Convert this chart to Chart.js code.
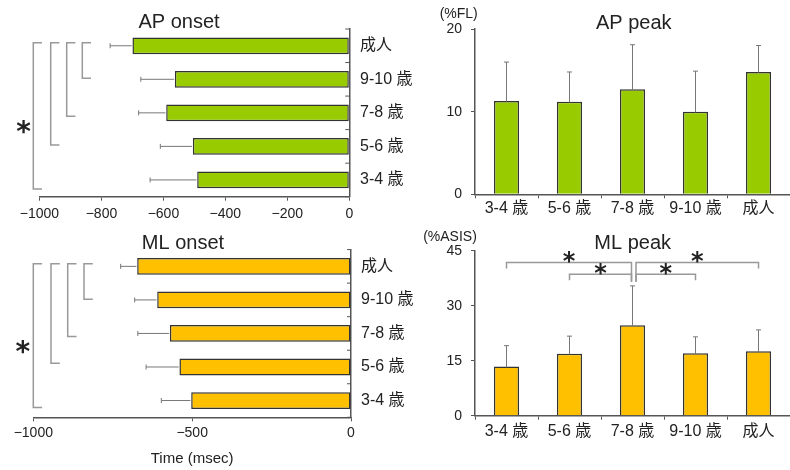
<!DOCTYPE html>
<html><head><meta charset="utf-8">
<script src="https://cdn.jsdelivr.net/npm/chart.js@4/dist/chart.umd.min.js"></script>
<style>
html,body{margin:0;padding:0;background:#fff;}
#wrap{position:relative;width:790px;height:470px;overflow:hidden;background:#fff;}
canvas{position:absolute;}
</style></head><body>
<div id="wrap">
<canvas id="c1" style="left:0;top:0" width="425" height="232"></canvas>
<canvas id="c2" style="left:0;top:230px" width="425" height="240"></canvas>
<canvas id="c3" style="left:400px;top:0" width="390" height="230"></canvas>
<canvas id="c4" style="left:400px;top:230px" width="390" height="240"></canvas>
</div>
<script>
// ---- data ----
const onsetLabels = ['成人','9-10 歳','7-8 歳','5-6 歳','3-4 歳'];
const peakLabels = ['3-4 歳','5-6 歳','7-8 歳','9-10 歳','成人'];
const apOnsetMean = [-700,-563,-591,-505,-491];
const apOnsetSD = [72,110,89,105,152];
const mlOnsetMean = [-673,-610,-570,-540,-503];
const mlOnsetSD = [52,71,101,105,94];
const apPeakMean = [11.3,11.2,12.7,10.0,14.8];
const apPeakSD = [4.7,3.6,5.4,4.9,3.2];
const mlPeakMean = [13.4,16.9,24.7,17.0,17.6];
const mlPeakSD = [5.7,4.8,10.7,4.5,5.8];
const apOnsetTicks = [-1000,-800,-600,-400,-200,0];
const mlOnsetTicks = [-1000,-500,0];
const apPeakTicks = [0,10,20];
const mlPeakTicks = [0,15,30,45];
const onsetSig = [[0,4],[0,3],[0,2],[0,1]];
const mlPeakSig = [[0,2],[2,4],[1,2],[2,3]];

const FONT = "'Liberation Sans','Noto Sans CJK JP',sans-serif";
const STARFONT = "'DejaVu Sans','Liberation Sans',sans-serif";
Chart.defaults.font.family = FONT;
Chart.defaults.color = '#222';
const GREEN = '#99CC00', ORANGE = '#FFC000', EDGE = '#333', AXIS = '#555', BR = '#999';

function fmt(v){ return v < 0 ? '\u2212' + Math.abs(v) : String(v); }

const decoCfg = {
  c1: {title:{t:'AP onset', x:179, y:22.5}, innerTicks:true,
       brackets:{pairs:onsetSig, xs:[33.3,50.7,66.7,82.3], arm:8.7, topDy:-3, endDy:[9,-1.5,3.3,-1]},
       star:{x:23.5, y:126.5, size:28}},
  c2: {title:{t:'ML onset', x:183, y:13.3}, innerTicks:true,
       brackets:{pairs:onsetSig, xs:[33.3,51,67.7,84], arm:8.8, topDy:-2.7, endDy:[7,-3.7,3,-0.7]},
       star:{x:22.7, y:116.7, size:28}},
  c3: {title:{t:'AP peak', x:233.8, y:23.3}, unit:{t:'(%FL)', x:58.7, y:14.3}},
  c4: {title:{t:'ML peak', x:232.7, y:13.3}, unit:{t:'(%ASIS)', x:50, y:7.5},
       sig:{pairs:mlPeakSig, levels:[41.8,41.8,38.6,38.6], innerDrop:36.55, drop:6}}
};

function drawStar(ctx, x, y, size){
  ctx.font = 'bold ' + size + 'px ' + STARFONT;
  ctx.textAlign = 'center'; ctx.textBaseline = 'alphabetic';
  const m = ctx.measureText('*');
  const a = m.actualBoundingBoxAscent, d = m.actualBoundingBoxDescent;
  ctx.fillStyle = '#222';
  ctx.fillText('*', x, y + (a - d) / 2);
}

const deco = {
  id: 'deco',
  afterDraw(chart){
    const cfg = decoCfg[chart.canvas.id]; if (!cfg) return;
    const ctx = chart.ctx; ctx.save();
    const ds = chart.data.datasets[0]; const meta = chart.getDatasetMeta(0);
    const horiz = chart.options.indexAxis === 'y';
    const xs = chart.scales.x, ys = chart.scales.y;
    // error bars
    ctx.strokeStyle = '#777'; ctx.lineWidth = 1;
    meta.data.forEach((el, i) => {
      const m = ds.data[i], s = ds.sd[i];
      ctx.beginPath();
      if (horiz) {
        const ex = xs.getPixelForValue(m - s);
        ctx.moveTo(el.x - 0.75, el.y); ctx.lineTo(ex, el.y);
        ctx.moveTo(ex, el.y - 2.5); ctx.lineTo(ex, el.y + 2.5);
      } else {
        const ey = ys.getPixelForValue(m + s);
        ctx.moveTo(el.x, el.y + 0.75); ctx.lineTo(el.x, ey);
        ctx.moveTo(el.x - 2.5, ey); ctx.lineTo(el.x + 2.5, ey);
      }
      ctx.stroke();
    });
    // inner ticks on right category axis
    if (cfg.innerTicks) {
      const n = chart.data.labels.length, band = (ys.bottom - ys.top) / n;
      ctx.strokeStyle = AXIS; ctx.lineWidth = 1; ctx.beginPath();
      for (let i = 0; i <= n; i++) {
        const y = ys.top + i * band;
        ctx.moveTo(ys.left - 4, y); ctx.lineTo(ys.left, y);
      }
      ctx.stroke();
    }
    // onset brackets
    if (cfg.brackets) {
      const b = cfg.brackets;
      ctx.strokeStyle = BR; ctx.lineWidth = 1.5;
      b.pairs.forEach((p, k) => {
        const x = b.xs[k];
        const y1 = ys.getPixelForValue(p[0]) + b.topDy;
        const y2 = ys.getPixelForValue(p[1]) + b.endDy[k];
        ctx.beginPath();
        ctx.moveTo(x + b.arm, y1); ctx.lineTo(x, y1); ctx.lineTo(x, y2); ctx.lineTo(x + b.arm, y2);
        ctx.stroke();
      });
    }
    if (cfg.star) drawStar(ctx, cfg.star.x, cfg.star.y, cfg.star.size);
    // peak significance brackets
    if (cfg.sig) {
      const s = cfg.sig;
      ctx.strokeStyle = BR; ctx.lineWidth = 1.5;
      s.pairs.forEach((p, k) => {
        const ly = ys.getPixelForValue(s.levels[k]);
        const ends = p.map((c, j) => {
          let x = xs.getPixelForValue(c);
          if (c === 2) x += (j === 0 ? 3.5 : -1);
          const dy = c === 2 ? ys.getPixelForValue(s.innerDrop) : ly + s.drop;
          return [x, dy];
        });
        ctx.beginPath();
        ctx.moveTo(ends[0][0], ends[0][1]); ctx.lineTo(ends[0][0], ly);
        ctx.lineTo(ends[1][0], ly); ctx.lineTo(ends[1][0], ends[1][1]);
        ctx.stroke();
        drawStar(ctx, (ends[0][0] + ends[1][0]) / 2, ly - 5.5, 24);
      });
    }
    // texts
    ctx.fillStyle = '#222'; ctx.textAlign = 'center'; ctx.textBaseline = 'middle';
    if (cfg.title) { ctx.font = '20px ' + FONT; ctx.fillText(cfg.title.t, cfg.title.x, cfg.title.y); }
    if (cfg.unit) { ctx.font = '14px ' + FONT; ctx.fillText(cfg.unit.t, cfg.unit.x, cfg.unit.y); }
    ctx.restore();
  }
};

function onsetChart(id, mean, sd, ticks, color, d) {
  return new Chart(document.getElementById(id), {
    type: 'bar',
    data: {labels: onsetLabels, datasets: [{data: mean, sd: sd, backgroundColor: color, borderColor: EDGE,
      borderWidth: 1.5, borderSkipped: false, barPercentage: 0.5, categoryPercentage: 1}]},
    options: {
      indexAxis: 'y', responsive: false, animation: false, events: [],
      layout: {padding: {left: d.left, top: d.top, right: 0, bottom: 0}},
      plugins: {legend: {display: false}, tooltip: {enabled: false}, title: {display: false}},
      scales: {
        x: {type: 'linear', min: ticks[0], max: ticks[ticks.length - 1],
          afterBuildTicks: s => { s.ticks = ticks.map(v => ({value: v})); },
          afterFit: s => { s.height = d.xh; },
          grid: {drawOnChartArea: false, tickLength: 4, color: AXIS, lineWidth: 1},
          border: {color: AXIS, width: 1.5},
          ticks: {font: {size: 14}, color: '#222', padding: d.xpad, callback: fmt, maxRotation: 0, autoSkip: false},
          title: d.xtitle ? {display: true, text: d.xtitle, font: {size: 15}, color: '#222', padding: {top: 0, bottom: 2}} : {display: false}
        },
        y: {position: 'right', afterFit: s => { s.width = d.yw; },
          grid: {display: false, drawTicks: false},
          border: {color: AXIS, width: 1.5},
          ticks: {font: {size: 16}, color: '#222', padding: d.ypad}
        }
      }
    },
    plugins: [deco]
  });
}

function peakChart(id, mean, sd, ticks, color, d) {
  return new Chart(document.getElementById(id), {
    type: 'bar',
    data: {labels: peakLabels, datasets: [{data: mean, sd: sd, backgroundColor: color, borderColor: EDGE,
      borderWidth: 1.5, borderSkipped: 'bottom', barPercentage: 0.4, categoryPercentage: 1}]},
    options: {
      responsive: false, animation: false, events: [],
      layout: {padding: {left: 0, top: d.top, right: 0, bottom: 0}},
      plugins: {legend: {display: false}, tooltip: {enabled: false}, title: {display: false}},
      scales: {
        x: {afterFit: s => { s.height = d.xh; },
          grid: {drawOnChartArea: false, tickLength: 4, color: AXIS, lineWidth: 1, offset: true},
          border: {color: AXIS, width: 1.5},
          ticks: {font: {size: 16}, color: '#222', padding: d.xpad, maxRotation: 0, autoSkip: false}
        },
        y: {min: ticks[0], max: ticks[ticks.length - 1],
          afterBuildTicks: s => { s.ticks = ticks.map(v => ({value: v})); },
          afterFit: s => { s.width = d.yw; },
          grid: {drawOnChartArea: false, tickLength: 4, color: AXIS, lineWidth: 1},
          border: {color: AXIS, width: 1.5},
          ticks: {font: {size: 14}, color: '#222', padding: 9, callback: fmt}
        }
      }
    },
    plugins: [deco]
  });
}

onsetChart('c1', apOnsetMean, apOnsetSD, apOnsetTicks, GREEN, {left: 39.5, top: 29, xh: 35.3, yw: 75.7, xpad: 5, ypad: 10.7});
onsetChart('c2', mlOnsetMean, mlOnsetSD, mlOnsetTicks, ORANGE, {left: 33.3, top: 17.3, xh: 52.7, yw: 74, xpad: 3, ypad: 10, xtitle: 'Time (msec)'});
peakChart('c3', apPeakMean, apPeakSD, apPeakTicks, GREEN, {top: 29, xh: 35.7, yw: 75, xpad: 1});
peakChart('c4', mlPeakMean, mlPeakSD, mlPeakTicks, ORANGE, {top: 20.7, xh: 54.3, yw: 75, xpad: 2});
</script>
</body></html>
